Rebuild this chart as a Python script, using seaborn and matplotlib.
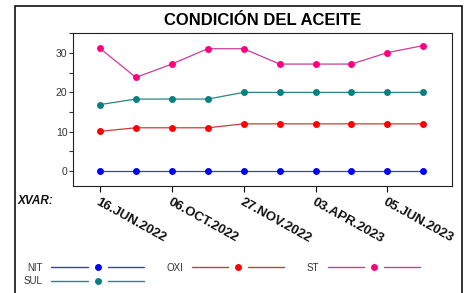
"""Condicion del aceite: tendencia de NIT, OXI, ST y SUL."""
import numpy as np
import pandas as pd
import seaborn as sns
import matplotlib
matplotlib.use("Agg")
import matplotlib.pyplot as plt
from matplotlib.lines import Line2D
from matplotlib.patches import Rectangle
from matplotlib.legend_handler import HandlerBase
from matplotlib.ticker import MultipleLocator

# data
samples = list(range(10))
nit = [0, 0, 0, 0, 0, 0, 0, 0, 0, 0]
oxi = [10.1, 11.0, 11.0, 11.0, 12.0, 12.0, 12.0, 12.0, 12.0, 12.0]
st = [31.2, 23.8, 27.2, 31.1, 31.1, 27.2, 27.2, 27.2, 30.1, 31.9]
sul = [16.9, 18.3, 18.3, 18.3, 20.0, 20.0, 20.0, 20.0, 20.0, 20.0]
tick_idx = [0, 2, 4, 6, 8]
tick_labels = ["16.JUN.2022", "06.OCT.2022", "27.NOV.2022",
               "03.APR.2023", "05.JUN.2023"]

series = ["NIT", "OXI", "ST", "SUL"]
line_colors = {"NIT": "#3b3bcc", "OXI": "#cc3b3b",
               "ST": "#cc3c9e", "SUL": "#2a8585"}
marker_colors = {"NIT": "#0000ff", "OXI": "#ff0000",
                 "ST": "#ff0080", "SUL": "#0a7f7f"}

df = pd.DataFrame({
    "sample": samples * 4,
    "value": nit + oxi + st + sul,
    "var": [s for s in series for _ in samples],
})


class GapLineHandler(HandlerBase):
    """Legend handle: line, dot, line with gaps between them."""

    def create_artists(self, legend, orig, xdescent, ydescent, width,
                       height, fontsize, trans):
        y = height / 2 - ydescent
        x0 = -xdescent
        gap = 0.11 * width
        mid = x0 + width / 2
        color = orig.get_color()
        left = Line2D([x0, mid - gap], [y, y], color=color, lw=1)
        right = Line2D([mid + gap, x0 + width], [y, y], color=color, lw=1)
        dot = Line2D([mid], [y], ls="", marker="o", markersize=5,
                     markerfacecolor=orig.get_markerfacecolor(),
                     markeredgewidth=0)
        for a in (left, right, dot):
            a.set_transform(trans)
        return [left, right, dot]


sns.set_theme(style="white")
plt.rcParams["font.family"] = ["Liberation Sans", "DejaVu Sans"]

fig, ax = plt.subplots(figsize=(4.69, 2.93), dpi=100)
fig.subplots_adjust(left=0.1557, right=0.9638, top=0.8874, bottom=0.3652)

sns.lineplot(data=df, x="sample", y="value", hue="var", hue_order=series,
             palette=line_colors, marker="o", markersize=5,
             markeredgewidth=0, linewidth=0.9, legend=False, ax=ax)
for line, name in zip(ax.lines, series):
    line.set_markerfacecolor(marker_colors[name])

ax.set_xlim(-0.75, 9.8)
ax.set_ylim(-3.8, 35.1)
ax.set_xticks(tick_idx)
ax.set_xticklabels(tick_labels, rotation=-29, ha="left", va="top",
                   rotation_mode="anchor", fontweight="bold", fontsize=9.5)
ax.yaxis.set_major_locator(MultipleLocator(10))
ax.yaxis.set_minor_locator(MultipleLocator(5))
ax.tick_params(axis="x", bottom=True, length=4, width=0.8, pad=3,
               colors="#111111")
ax.tick_params(axis="y", which="both", left=True, length=3, width=0.8,
               pad=1, labelsize=7.5, colors="#333333")
ax.set_xlabel("")
ax.set_ylabel("")
for sp in ax.spines.values():
    sp.set_color("#222222")
    sp.set_linewidth(0.8)

ax.set_title("CONDICIÓN DEL ACEITE", fontsize=12, fontweight="bold",
             pad=6, color="#000000")
fig.text(18 / 469, 1 - 195 / 293, "XVAR:", fontsize=8.5, fontweight="bold",
         fontstyle="italic", va="top", ha="left", color="#111111")

# outer frame
fig.add_artist(Rectangle((15 / 469, -0.02), (462 - 15) / 469,
                         1.02 - 6 / 293, transform=fig.transFigure,
                         fill=False, edgecolor="#111111", lw=1.2))

# legend: row-major look NIT, OXI, ST / SUL
order = ["NIT", "SUL", "OXI", "ST"]
handles = [ax.lines[series.index(n)] for n in order]
fig.legend(handles, order, loc="upper left",
           bbox_to_anchor=(19 / 469, 1 - 258 / 293), ncol=3,
           frameon=False, markerfirst=False, fontsize=7, borderpad=0,
           handlelength=9.5, handletextpad=0.9, columnspacing=2.3,
           labelspacing=0.35, labelcolor="#333333",
           handler_map={Line2D: GapLineHandler()})

fig.savefig("out.png", dpi=100)
